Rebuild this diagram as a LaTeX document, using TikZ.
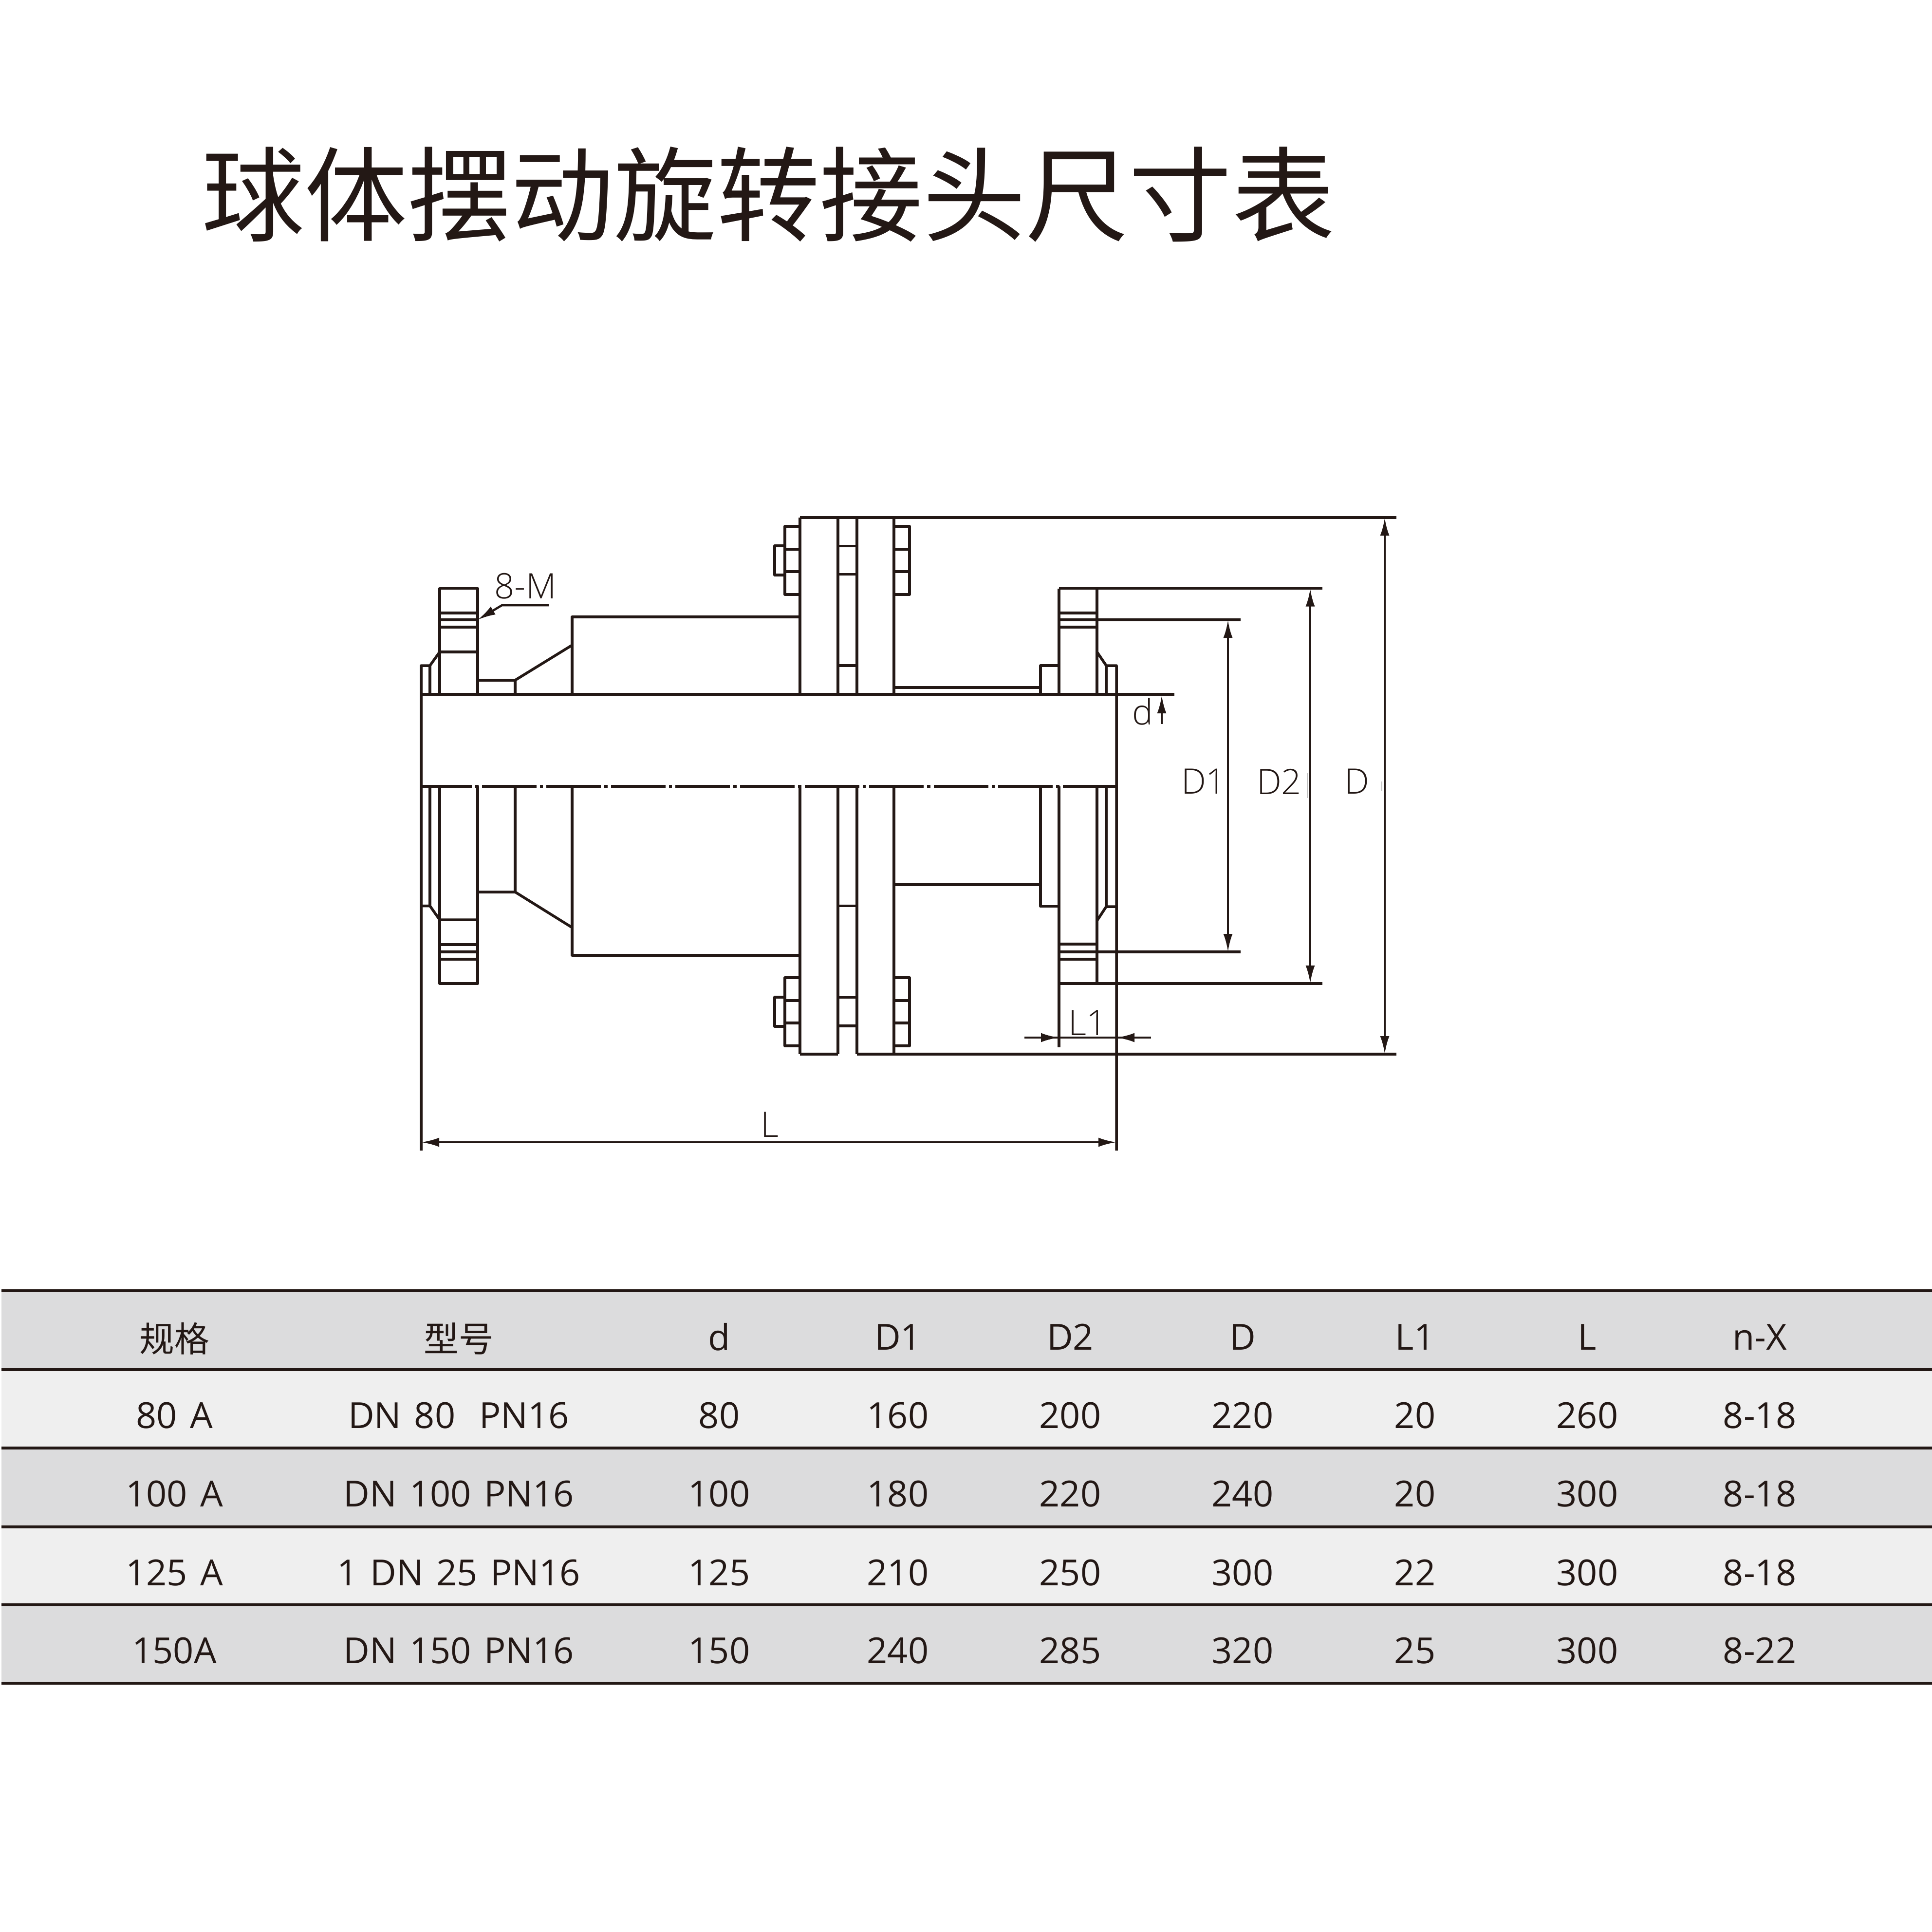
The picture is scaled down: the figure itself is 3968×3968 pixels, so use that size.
\documentclass[tikz,border=0pt]{standalone}
\usepackage{fontspec}
\setmainfont{Open Sans}
\newfontfamily\cjkfont{Noto Sans CJK SC}
\newfontfamily\lightfont{Open Sans Light}
\usetikzlibrary{arrows.meta}
\definecolor{inkdark}{HTML}{231815}
\definecolor{banddark}{HTML}{DCDCDD}
\definecolor{bandlight}{HTML}{EFEFEF}
\tikzset{
  partline/.style={draw=inkdark,line width=0.55mm,line join=round},
  centerline/.style={draw=inkdark,line width=0.55mm,dash pattern=on 112*0.1mm off 7*0.1mm on 6.6*0.1mm off 7*0.1mm,dash phase=0.8mm},
  dimline/.style={draw=inkdark,line width=0.45mm,>={Latex[length=3.7mm,width=1.9mm]}},
  ghostline/.style={draw=black!25,line width=0.12mm},
  titletext/.style={inner sep=0pt,text=inkdark,font=\cjkfont\fontsize{60.2}{60}\selectfont},
  labeltext/.style={inner sep=0pt,text=inkdark,font=\lightfont\fontsize{20.5}{20}\selectfont},
  celltext/.style={inner sep=0pt,text=inkdark,font={\fontsize{21}{21}\selectfont\spaceskip 7.5pt\relax}},
  headtext/.style={inner sep=0pt,text=inkdark,font=\cjkfont\fontsize{20.4}{20}\selectfont}
}
\begin{document}
\begin{tikzpicture}[x=0.1mm,y=-0.1mm]
  \useasboundingbox (0,0) rectangle (3968,3968);
  \node[titletext] (title) at (1578,399) {球体摆动旋转接头尺寸表};
  % left flange and cone, upper half
  \draw[partline] (865,1426) -- (2412,1426);
  \draw[partline] (865,2363) -- (865,1367) -- (883,1367) -- (903,1339);
  \draw[partline] (883,1367) -- (883,1426);
  \draw[partline] (903,1426) -- (903,1208.6) -- (981,1208.6) -- (981,1426);
  \foreach \yl in {1259,1273,1288,1339}
    \draw[partline] (903,\yl) -- (981,\yl);
  \draw[partline] (981,1397) -- (1058,1397) -- (1175,1325);
  \draw[partline] (1058,1397) -- (1058,1426);
  \draw[partline] (1175,1426) -- (1175,1267) -- (1643,1267);
  % left flange and cone, lower half
  \draw[partline] (865,1860.6) -- (883,1860.6) -- (903,1889) -- (981,1889);
  \draw[partline] (883,1615) -- (883,1860.6);
  \draw[partline] (903,1615) -- (903,2020) -- (981,2020) -- (981,1615);
  \foreach \yl in {1940,1955,1970}
    \draw[partline] (903,\yl) -- (981,\yl);
  \draw[partline] (981,1832) -- (1058,1832) -- (1175,1905);
  \draw[partline] (1058,1615) -- (1058,1832);
  \draw[partline] (1175,1615) -- (1175,1962) -- (1643,1962);
  % middle flanges
  \draw[partline] (1643,1063) -- (2868,1063);
  \draw[partline] (1643,2165) -- (1721,2165);
  \draw[partline] (1760,2165) -- (2868,2165);
  \foreach \xf in {1643,1721,1760,1836} {
    \draw[partline] (\xf,1063) -- (\xf,1426);
    \draw[partline] (\xf,1615) -- (\xf,2165);
  }
  \foreach \yl in {1121.5,1179.5,1367,1860.6,2048.6,2107}
    \draw[partline] (1721,\yl) -- (1760,\yl);
  % bolts
  \foreach \yb in {1081,2008} {
    \draw[partline] (1643,\yb) -- (1612,\yb) -- (1612,\yb+140) -- (1643,\yb+140);
    \draw[partline] (1612,\yb+47) -- (1643,\yb+47);
    \draw[partline] (1612,\yb+93) -- (1643,\yb+93);
    \draw[partline] (1612,\yb+40) -- (1591,\yb+40) -- (1591,\yb+100) -- (1612,\yb+100);
    \draw[partline] (1836,\yb) -- (1868,\yb) -- (1868,\yb+140) -- (1836,\yb+140);
    \draw[partline] (1836,\yb+47) -- (1868,\yb+47);
    \draw[partline] (1836,\yb+93) -- (1868,\yb+93);
  }
  % right flange, upper half
  \draw[partline] (1836,1412) -- (2137,1412);
  \draw[partline] (2137,1426) -- (2137,1367) -- (2175,1367);
  \draw[partline] (2175,1426) -- (2175,1208.6);
  \draw[partline] (2253,1426) -- (2253,1208.6);
  \foreach \yl in {1259,1288}
    \draw[partline] (2175,\yl) -- (2253,\yl);
  \draw[partline] (2253,1339) -- (2272,1367) -- (2293,1367) -- (2293,2363);
  \draw[partline] (2272,1367) -- (2272,1426);
  % right flange, lower half
  \draw[partline] (1836,1817) -- (2137,1817);
  \draw[partline] (2137,1615) -- (2137,1861.6) -- (2175,1861.6);
  \draw[partline] (2175,1615) -- (2175,2150.5);
  \draw[partline] (2253,1615) -- (2253,2020);
  \draw[partline] (2272,1615) -- (2272,1862);
  \draw[partline] (2253,1891) -- (2272,1862) -- (2293,1862);
  \foreach \yl in {1939,1970}
    \draw[partline] (2175,\yl) -- (2253,\yl);
  \draw[centerline] (865,1615) -- (2293,1615);
  % extension lines
  \draw[partline] (2175,1208.6) -- (2716,1208.6);
  \draw[partline] (2175,1273) -- (2548,1273);
  \draw[partline] (2175,1955) -- (2548,1955);
  \draw[partline] (2175,2020) -- (2716,2020);
  % dimensions
  \draw[dimline,<->] (2522,1273) -- (2522,1955);
  \draw[dimline,<->] (2691,1208.6) -- (2691,2020);
  \draw[dimline,<->] (2844,1063) -- (2844,2165);
  \draw[dimline,<->] (865,2346) -- (2293,2346);
  \draw[dimline,<-] (2386,1428) -- (2386,1487);
  \draw[dimline] (2104,2131) -- (2364,2131);
  \draw[dimline,->] (2104,2131) -- (2175,2131);
  \draw[dimline,->] (2364,2131) -- (2293,2131);
  \draw[dimline,<-] (981,1273) -- (1031,1243) -- (1127,1243);
  \draw[ghostline] (2685,1588) -- (2685,1639);
  \draw[ghostline] (2838,1605) -- (2838,1625);
  % labels
  \node[labeltext] (labelm) at (1079,1204) {8-M};
  \node[labeltext] (labeld) at (2347,1461) {d};
  \node[labeltext] (labeldone) at (2472,1605) {D1};
  \node[labeltext] (labeldtwo) at (2627,1605) {D2};
  \node[labeltext] (labeldd) at (2787,1605) {D};
  \node[labeltext] (labellone) at (2234,2101) {L1};
  \node[labeltext] (labell) at (1581,2310) {L};
  % table
  \foreach \ya/\yb/\tone in {2651/2813/banddark,2813/2974/bandlight,2974/3136/banddark,3136/3296/bandlight,3296/3457/banddark}
    \fill[\tone] (3,\ya) rectangle (3968,\yb);
  \foreach \yl in {2651,2813,2974,3136,3296,3457}
    \draw[inkdark,line width=0.6mm] (3,\yl) -- (3968,\yl);
  \def\colxs{{358,942,1477,1844,2198,2552,2906,3260,3614}}
  \node[headtext] (hcola) at (358,2749) {规格};
  \node[headtext] (hcolb) at (942,2749) {型号};
  \foreach \k/\cell in {3/d,4/D1,5/D2,6/D,7/L1,8/L,9/n-X} {
    \pgfmathsetmacro\colx{\colxs[\k-1]}
    \node[celltext] (hcol\k) at (\colx,2746) {\cell};
  }
  \foreach \rowid/\rowy/\cells in {
    r/2907/{80 A,DN 80\kern14pt PN16,80,160,200,220,20,260,8-18},
    s/3068/{100 A,DN 100 PN16,100,180,220,240,20,300,8-18},
    t/3230/{125 A,1 DN 25 PN16,125,210,250,300,22,300,8-18},
    u/3390/{150A,DN 150 PN16,150,240,285,320,25,300,8-22}} {
    \foreach \cell [count=\k] in \cells {
      \pgfmathsetmacro\colx{\colxs[\k-1]}
      \node[celltext] (\rowid\k) at (\colx,\rowy) {\cell};
    }
  }
\end{tikzpicture}
\end{document}
